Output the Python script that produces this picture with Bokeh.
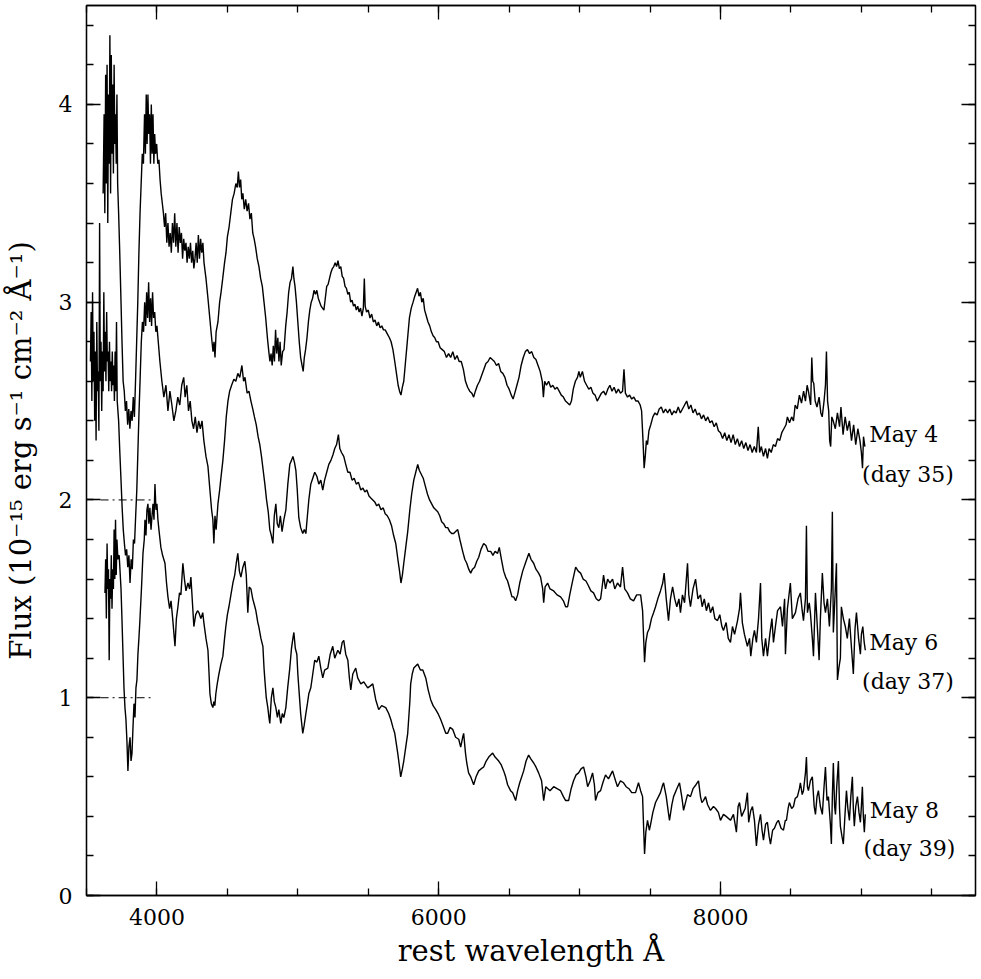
from bokeh.plotting import figure
from bokeh.models import Range1d, LinearAxis, SingleIntervalTicker
from bokeh.core.properties import value
from bokeh.embed import file_html
from bokeh.resources import INLINE

FONT = "DejaVu Serif"

# ---- data: (rest wavelength [A], flux [1e-15 erg/s/cm2/A], offset already applied) ----
may4 = [
(3618,3.55),(3625,3.95),(3630,3.45),(3636,4.15),(3641,3.60),(3646,4.20),(3651,3.40),(3656,4.05),
(3661,3.70),(3666,4.35),(3671,3.55),(3676,4.25),(3681,3.75),(3686,4.10),(3691,3.65),(3696,4.20),
(3701,3.80),(3706,3.95),(3711,3.70),(3716,4.05),(3721,3.60),(3728,3.45),(3736,3.25),(3745,3.00),
(3752,2.80),(3760,2.60),(3768,2.55),(3776,2.45),(3784,2.50),(3792,2.38),(3800,2.46),(3808,2.36),
(3816,2.45),(3824,2.40),(3832,2.52),(3840,2.42),(3848,2.60),(3856,2.80),(3864,3.00),(3872,3.25),
(3880,3.45),(3888,3.60),(3896,3.75),(3904,3.70),(3912,3.95),(3918,3.75),(3924,4.05),(3930,3.80),
(3936,4.05),(3942,3.85),(3948,3.95),(3954,3.70),(3960,4.00),(3966,3.75),(3972,3.95),(3978,3.70),
(3984,3.85),(3990,3.75),(3998,3.80),(4006,3.70),(4014,3.72),(4022,3.62),(4030,3.55),(4038,3.50),
(4046,3.45),(4054,3.38),(4062,3.45),(4070,3.30),(4078,3.40),(4086,3.28),(4094,3.35),(4102,3.25),
(4110,3.40),(4118,3.30),(4126,3.45),(4134,3.28),(4142,3.40),(4150,3.25),(4158,3.38),(4166,3.30),
(4174,3.35),(4182,3.22),(4190,3.32),(4198,3.26),(4206,3.30),(4214,3.20),(4222,3.28),(4230,3.22),
(4238,3.30),(4246,3.20),(4254,3.26),(4262,3.17),(4270,3.22),(4278,3.30),(4286,3.20),(4294,3.34),
(4302,3.22),(4310,3.32),(4318,3.25),(4326,3.30),(4334,3.20),(4348,3.12),(4362,3.02),(4375,2.92),
(4388,2.82),(4398,2.75),(4405,2.80),(4412,2.72),(4420,2.85),(4433,2.90),(4445,3.00),(4455,3.05),
(4467,3.12),(4480,3.20),(4490,3.25),(4500,3.33),(4512,3.38),(4524,3.45),(4536,3.52),(4548,3.55),
(4560,3.60),(4570,3.58),(4578,3.66),(4586,3.58),(4594,3.62),(4602,3.52),(4610,3.55),(4620,3.47),
(4630,3.52),(4640,3.46),(4650,3.50),(4660,3.42),(4670,3.45),(4680,3.35),(4690,3.32),(4700,3.28),
(4712,3.22),(4724,3.18),(4736,3.12),(4748,3.08),(4760,3.00),(4772,2.92),(4784,2.82),(4794,2.75),
(4802,2.70),(4810,2.74),(4818,2.68),(4826,2.78),(4834,2.70),(4842,2.86),(4850,2.74),(4858,2.82),
(4866,2.70),(4874,2.80),(4882,2.68),(4892,2.75),(4902,2.76),(4914,2.88),(4924,2.95),(4935,3.05),
(4945,3.10),(4955,3.12),(4965,3.18),(4972,3.12),(4980,3.08),(4990,3.00),(5000,2.90),(5010,2.80),
(5020,2.72),(5030,2.68),(5038,2.65),(5046,2.72),(5055,2.76),(5065,2.82),(5075,2.90),(5085,2.96),
(5095,3.00),(5105,3.02),(5115,3.06),(5125,3.04),(5135,3.06),(5145,3.02),(5155,3.00),(5165,2.98),
(5175,2.97),(5185,2.96),(5195,3.02),(5205,3.08),(5215,3.09),(5225,3.12),(5235,3.15),(5245,3.17),
(5255,3.18),(5265,3.20),(5275,3.18),(5285,3.21),(5295,3.17),(5305,3.18),(5315,3.13),(5325,3.12),
(5335,3.08),(5345,3.07),(5355,3.04),(5365,3.05),(5375,3.00),(5385,3.01),(5395,2.98),(5405,2.99),
(5415,2.96),(5425,2.98),(5435,2.95),(5445,2.97),(5455,2.93),(5465,2.97),(5472,3.12),(5478,2.98),
(5488,2.95),(5500,2.96),(5512,2.92),(5524,2.94),(5536,2.90),(5548,2.91),(5560,2.88),(5572,2.90),
(5584,2.87),(5596,2.88),(5608,2.86),(5620,2.86),(5635,2.84),(5650,2.82),(5662,2.80),(5675,2.76),
(5688,2.70),(5700,2.64),(5712,2.58),(5722,2.55),(5732,2.53),(5742,2.57),(5752,2.60),(5762,2.68),
(5772,2.76),(5782,2.84),(5792,2.92),(5805,2.97),(5818,3.00),(5830,3.03),(5840,3.05),(5850,3.07),
(5860,3.03),(5870,3.05),(5880,3.00),(5890,3.02),(5900,2.96),(5912,2.93),(5924,2.90),(5936,2.88),
(5948,2.85),(5960,2.83),(5972,2.82),(5984,2.80),(5996,2.80),(6010,2.77),(6025,2.76),(6040,2.75),
(6055,2.72),(6070,2.74),(6085,2.72),(6100,2.75),(6115,2.71),(6130,2.73),(6145,2.70),(6160,2.70),
(6175,2.66),(6190,2.60),(6205,2.57),(6220,2.55),(6235,2.54),(6248,2.52),(6260,2.55),(6275,2.58),
(6290,2.60),(6305,2.63),(6320,2.66),(6335,2.69),(6350,2.70),(6365,2.72),(6380,2.71),(6395,2.70),
(6410,2.68),(6425,2.69),(6440,2.65),(6455,2.64),(6470,2.62),(6485,2.58),(6500,2.56),(6515,2.53),
(6528,2.51),(6540,2.54),(6555,2.58),(6570,2.62),(6585,2.68),(6600,2.72),(6615,2.75),(6630,2.76),
(6645,2.74),(6660,2.75),(6675,2.72),(6690,2.71),(6705,2.68),(6720,2.65),(6735,2.60),(6743,2.52),
(6752,2.60),(6765,2.58),(6780,2.60),(6795,2.57),(6810,2.58),(6825,2.56),(6840,2.57),(6855,2.55),
(6870,2.53),(6885,2.52),(6900,2.50),(6915,2.49),(6930,2.48),(6942,2.50),(6955,2.56),(6970,2.60),
(6985,2.62),(6995,2.65),(7005,2.62),(7020,2.65),(7035,2.60),(7050,2.58),(7065,2.56),(7080,2.57),
(7095,2.54),(7110,2.53),(7125,2.50),(7140,2.52),(7155,2.54),(7170,2.55),(7185,2.53),(7200,2.56),
(7215,2.58),(7230,2.55),(7245,2.57),(7260,2.54),(7275,2.56),(7290,2.54),(7305,2.55),(7315,2.66),
(7325,2.54),(7340,2.52),(7355,2.53),(7370,2.51),(7385,2.52),(7400,2.50),(7415,2.50),(7430,2.48),
(7440,2.45),(7450,2.30),(7458,2.16),(7466,2.22),(7474,2.30),(7482,2.28),(7492,2.35),(7505,2.38),
(7520,2.42),(7535,2.44),(7550,2.43),(7565,2.46),(7580,2.47),(7595,2.44),(7610,2.46),(7625,2.44),
(7640,2.46),(7655,2.43),(7670,2.45),(7685,2.44),(7700,2.47),(7715,2.44),(7730,2.46),(7745,2.48),
(7760,2.50),(7775,2.46),(7790,2.48),(7805,2.44),(7820,2.46),(7835,2.43),(7850,2.44),(7865,2.41),
(7880,2.43),(7895,2.40),(7910,2.42),(7925,2.39),(7940,2.40),(7955,2.37),(7970,2.39),(7985,2.35),
(8000,2.34),(8015,2.31),(8030,2.34),(8045,2.30),(8060,2.33),(8075,2.29),(8090,2.33),(8105,2.28),
(8120,2.31),(8135,2.27),(8150,2.30),(8165,2.26),(8180,2.29),(8195,2.25),(8210,2.28),(8225,2.24),
(8240,2.27),(8255,2.24),(8268,2.37),(8278,2.24),(8290,2.27),(8305,2.22),(8320,2.26),(8333,2.21),
(8345,2.26),(8360,2.24),(8375,2.28),(8390,2.27),(8405,2.31),(8420,2.30),(8435,2.34),(8450,2.36),
(8465,2.38),(8475,2.42),(8490,2.39),(8505,2.42),(8518,2.40),(8530,2.48),(8545,2.46),(8560,2.53),
(8575,2.49),(8590,2.55),(8603,2.50),(8615,2.58),(8624,2.55),(8640,2.48),(8648,2.72),(8655,2.60),
(8662,2.59),(8672,2.50),(8685,2.47),(8700,2.52),(8712,2.44),(8722,2.42),(8735,2.50),(8745,2.58),
(8752,2.75),(8760,2.50),(8768,2.45),(8775,2.30),(8782,2.27),(8790,2.42),(8800,2.40),(8815,2.36),
(8830,2.44),(8845,2.37),(8855,2.47),(8870,2.33),(8885,2.42),(8900,2.35),(8915,2.40),(8930,2.30),
(8945,2.38),(8960,2.28),(8975,2.36),(8990,2.30),(9000,2.24),(9008,2.16),(9015,2.32),(9025,2.27),
]

may6 = [
(3528,2.70),(3533,2.95),(3538,2.50),(3543,3.05),(3548,2.60),(3553,2.85),(3558,2.40),(3563,2.75),
(3568,2.30),(3573,2.90),(3578,2.55),(3583,2.65),(3588,2.35),(3593,3.40),(3598,2.60),(3603,2.80),
(3608,2.45),(3613,2.75),(3618,2.55),(3623,3.05),(3628,2.65),(3633,2.85),(3638,2.60),(3643,2.95),
(3648,2.70),(3653,2.75),(3658,2.55),(3663,2.80),(3668,2.60),(3673,2.70),(3678,2.55),(3683,2.75),
(3688,2.58),(3693,2.68),(3698,2.50),(3703,2.75),(3708,2.55),(3713,2.90),(3718,2.50),(3728,2.40),
(3736,2.25),(3745,2.10),(3753,1.96),(3761,1.85),(3769,1.78),(3777,1.72),(3785,1.75),(3793,1.66),
(3801,1.72),(3809,1.58),(3817,1.70),(3825,1.65),(3833,1.80),(3841,1.78),(3849,1.92),(3857,2.05),
(3865,2.25),(3873,2.45),(3881,2.62),(3889,2.80),(3897,2.90),(3905,2.85),(3913,3.00),(3920,2.88),
(3927,3.05),(3934,2.92),(3941,3.10),(3948,2.90),(3955,3.02),(3962,2.88),(3969,3.05),(3976,2.92),
(3984,2.95),(3992,2.85),(4000,2.88),(4021,2.70),(4035,2.60),(4049,2.52),(4064,2.58),(4078,2.45),
(4092,2.55),(4106,2.48),(4120,2.40),(4134,2.45),(4148,2.52),(4162,2.48),(4176,2.58),(4190,2.62),
(4200,2.52),(4212,2.58),(4224,2.45),(4236,2.50),(4248,2.40),(4260,2.36),(4272,2.42),(4284,2.34),
(4296,2.40),(4308,2.36),(4320,2.40),(4333,2.30),(4348,2.22),(4362,2.17),(4376,2.05),(4388,1.95),
(4397,1.90),(4404,1.78),(4412,1.92),(4420,1.85),(4433,1.98),(4445,2.05),(4454,2.11),(4468,2.20),
(4480,2.30),(4492,2.42),(4504,2.50),(4516,2.55),(4530,2.58),(4546,2.61),(4560,2.60),(4574,2.64),
(4588,2.62),(4603,2.68),(4615,2.60),(4625,2.62),(4640,2.54),(4653,2.55),(4667,2.50),(4680,2.46),
(4692,2.42),(4705,2.38),(4718,2.32),(4730,2.28),(4742,2.22),(4754,2.15),(4766,2.08),(4778,2.00),
(4790,1.94),(4801,1.85),(4812,1.82),(4823,1.78),(4833,1.92),(4844,1.98),(4854,1.88),(4865,1.86),
(4876,1.92),(4888,1.84),(4901,1.90),(4915,1.95),(4929,2.08),(4943,2.18),(4955,2.20),(4965,2.22),
(4976,2.19),(4986,2.15),(4996,2.05),(5007,1.91),(5020,1.86),(5035,1.83),(5046,1.85),(5057,1.83),
(5068,1.92),(5078,2.00),(5092,2.08),(5106,2.11),(5120,2.14),(5135,2.12),(5149,2.08),(5163,2.10),
(5177,2.05),(5190,2.10),(5205,2.14),(5220,2.18),(5235,2.20),(5250,2.23),(5262,2.26),(5275,2.28),
(5288,2.33),(5298,2.26),(5310,2.24),(5326,2.22),(5340,2.18),(5355,2.14),(5370,2.14),(5385,2.10),
(5400,2.11),(5415,2.08),(5430,2.09),(5447,2.05),(5462,2.06),(5476,2.04),(5490,2.05),(5505,2.02),
(5518,2.01),(5532,2.00),(5546,1.99),(5560,1.97),(5574,1.98),(5590,1.95),(5606,1.96),(5620,1.93),
(5635,1.92),(5650,1.90),(5665,1.87),(5680,1.82),(5695,1.78),(5710,1.70),(5722,1.64),(5732,1.58),
(5742,1.62),(5752,1.68),(5766,1.76),(5780,1.84),(5795,1.95),(5808,2.03),(5823,2.10),(5837,2.14),
(5851,2.18),(5862,2.15),(5876,2.13),(5890,2.11),(5905,2.07),(5920,2.03),(5935,2.00),(5950,1.98),
(5965,1.96),(5979,1.95),(5993,1.94),(6007,1.92),(6021,1.89),(6035,1.88),(6050,1.86),(6064,1.86),
(6078,1.84),(6092,1.83),(6106,1.83),(6120,1.84),(6135,1.85),(6150,1.80),(6170,1.74),(6185,1.70),
(6199,1.68),(6213,1.65),(6227,1.63),(6240,1.65),(6255,1.66),(6270,1.69),(6284,1.71),(6300,1.75),
(6319,1.78),(6335,1.77),(6350,1.74),(6369,1.74),(6385,1.72),(6400,1.74),(6418,1.73),(6430,1.76),
(6445,1.70),(6461,1.64),(6475,1.61),(6489,1.59),(6505,1.55),(6520,1.51),(6532,1.51),(6546,1.49),
(6560,1.52),(6575,1.58),(6596,1.64),(6615,1.68),(6630,1.71),(6640,1.73),(6655,1.70),(6674,1.68),
(6690,1.65),(6709,1.63),(6723,1.61),(6738,1.55),(6745,1.48),(6755,1.56),(6773,1.58),(6790,1.55),
(6816,1.54),(6840,1.52),(6865,1.51),(6885,1.49),(6901,1.46),(6915,1.46),(6930,1.52),(6950,1.59),
(6972,1.66),(6990,1.64),(7007,1.63),(7025,1.60),(7045,1.59),(7060,1.57),(7080,1.54),(7099,1.53),
(7118,1.50),(7135,1.49),(7149,1.50),(7160,1.56),(7170,1.62),(7184,1.55),(7199,1.60),(7215,1.58),
(7234,1.60),(7250,1.55),(7269,1.58),(7290,1.56),(7305,1.66),(7320,1.55),(7340,1.53),(7360,1.50),
(7383,1.49),(7405,1.52),(7433,1.52),(7447,1.44),(7454,1.31),(7461,1.18),(7470,1.28),(7482,1.33),
(7495,1.35),(7510,1.40),(7525,1.43),(7539,1.46),(7555,1.50),(7574,1.54),(7590,1.58),(7600,1.63),
(7615,1.50),(7631,1.39),(7645,1.50),(7660,1.56),(7675,1.50),(7690,1.46),(7705,1.50),(7716,1.43),
(7730,1.52),(7745,1.48),(7766,1.68),(7775,1.52),(7787,1.46),(7805,1.55),(7823,1.60),(7840,1.50),
(7858,1.52),(7870,1.46),(7885,1.50),(7900,1.44),(7915,1.48),(7929,1.43),(7945,1.46),(7960,1.40),
(7979,1.39),(7995,1.42),(8010,1.36),(8021,1.34),(8040,1.38),(8055,1.30),(8071,1.28),(8085,1.36),
(8100,1.32),(8121,1.39),(8135,1.45),(8142,1.53),(8155,1.38),(8170,1.32),(8191,1.26),(8206,1.30),
(8215,1.21),(8230,1.30),(8241,1.34),(8255,1.28),(8270,1.40),(8284,1.58),(8293,1.30),(8305,1.21),
(8320,1.30),(8333,1.21),(8350,1.32),(8365,1.40),(8376,1.28),(8390,1.36),(8405,1.44),(8426,1.46),
(8440,1.36),(8455,1.50),(8461,1.22),(8475,1.45),(8496,1.58),(8510,1.40),(8532,1.43),(8550,1.50),
(8567,1.53),(8580,1.44),(8589,1.39),(8603,1.50),(8610,1.87),(8617,1.43),(8630,1.48),(8638,1.43),
(8652,1.30),(8660,1.21),(8674,1.53),(8688,1.35),(8700,1.19),(8709,1.40),(8723,1.63),(8735,1.48),
(8745,1.43),(8759,1.50),(8773,1.36),(8787,1.55),(8794,1.94),(8801,1.33),(8812,1.50),(8823,1.68),
(8830,1.09),(8840,1.15),(8851,1.20),(8858,1.46),(8872,1.40),(8886,1.36),(8900,1.30),(8915,1.40),
(8930,1.25),(8943,1.12),(8955,1.35),(8965,1.43),(8980,1.30),(8993,1.22),(9000,1.32),(9010,1.36),
(9020,1.28),(9028,1.24),
]

may8 = [
(3631,1.53),(3636,1.70),(3641,1.40),(3646,1.78),(3651,1.55),(3656,1.65),(3661,1.19),(3666,1.60),
(3671,1.50),(3676,1.72),(3681,1.45),(3686,1.65),(3691,1.55),(3696,1.85),(3701,1.60),(3706,1.90),
(3711,1.62),(3716,1.80),(3723,1.70),(3732,1.72),(3745,1.55),(3752,1.39),(3759,1.22),(3766,1.05),
(3773,0.95),(3780,0.89),(3787,0.78),(3794,0.63),(3801,0.75),(3809,0.80),(3816,0.68),(3823,0.72),
(3830,0.85),(3837,0.97),(3844,0.90),(3851,1.05),(3858,1.09),(3865,1.22),(3872,1.30),(3879,1.39),
(3890,1.55),(3901,1.73),(3910,1.80),(3915,1.90),(3922,1.82),(3929,1.95),(3936,1.98),(3943,1.88),
(3950,1.96),(3958,1.85),(3965,1.92),(3972,1.98),(3979,1.90),(3986,2.08),(3993,1.95),(4000,1.98),
(4007,1.90),(4014,1.85),(4028,1.76),(4040,1.72),(4057,1.68),(4068,1.58),(4078,1.51),(4090,1.45),
(4100,1.49),(4113,1.39),(4121,1.32),(4128,1.26),(4138,1.40),(4149,1.46),(4160,1.53),(4170,1.52),
(4184,1.68),(4195,1.60),(4206,1.54),(4220,1.58),(4232,1.55),(4241,1.61),(4252,1.48),(4262,1.36),
(4275,1.42),(4288,1.44),(4298,1.43),(4312,1.40),(4325,1.43),(4333,1.38),(4348,1.30),(4362,1.24),
(4370,1.12),(4376,1.02),(4386,0.97),(4397,0.95),(4404,0.98),(4411,0.96),(4418,1.02),(4428,1.07),
(4440,1.12),(4454,1.17),(4468,1.21),(4480,1.30),(4489,1.36),(4500,1.42),(4511,1.46),(4525,1.52),
(4539,1.58),(4552,1.62),(4563,1.68),(4574,1.73),(4585,1.64),(4596,1.61),(4610,1.66),(4624,1.69),
(4634,1.62),(4645,1.43),(4655,1.56),(4667,1.55),(4680,1.50),(4695,1.46),(4702,1.44),(4716,1.38),
(4723,1.36),(4738,1.30),(4752,1.26),(4760,1.15),(4766,1.09),(4776,1.00),(4787,0.95),(4795,0.90),
(4801,0.87),(4812,1.00),(4823,1.05),(4833,0.98),(4844,0.95),(4855,0.90),(4865,0.94),(4879,0.87),
(4890,0.92),(4901,0.90),(4915,0.95),(4928,1.05),(4943,1.15),(4955,1.25),(4965,1.30),(4972,1.33),
(4982,1.25),(4993,1.22),(5000,1.12),(5007,1.05),(5020,0.92),(5035,0.82),(5045,0.86),(5057,0.92),
(5068,0.97),(5078,1.02),(5092,1.05),(5106,1.12),(5120,1.19),(5135,1.18),(5149,1.21),(5163,1.15),
(5177,1.10),(5190,1.14),(5213,1.15),(5230,1.22),(5248,1.26),(5262,1.20),(5284,1.24),(5300,1.22),
(5315,1.28),(5326,1.29),(5340,1.22),(5355,1.19),(5366,1.10),(5376,1.04),(5390,1.12),(5411,1.15),
(5425,1.10),(5447,1.07),(5468,1.08),(5496,1.05),(5515,1.06),(5532,1.07),(5553,0.99),(5574,0.94),
(5595,0.96),(5624,0.95),(5645,0.92),(5660,0.89),(5675,0.85),(5688,0.82),(5709,0.72),(5720,0.66),
(5730,0.60),(5742,0.64),(5752,0.68),(5766,0.75),(5780,0.82),(5795,0.98),(5801,1.07),(5812,1.12),
(5823,1.15),(5837,1.16),(5851,1.17),(5870,1.14),(5887,1.14),(5908,1.10),(5925,1.04),(5943,0.99),
(5960,0.96),(5979,0.94),(5995,0.92),(6014,0.89),(6030,0.86),(6050,0.82),(6064,0.82),(6080,0.85),
(6099,0.84),(6120,0.80),(6142,0.79),(6156,0.75),(6170,0.80),(6177,0.82),(6190,0.72),(6199,0.67),
(6212,0.62),(6227,0.60),(6248,0.56),(6265,0.60),(6284,0.63),(6300,0.64),(6319,0.65),(6337,0.68),
(6355,0.70),(6369,0.71),(6383,0.72),(6400,0.70),(6426,0.68),(6444,0.66),(6461,0.63),(6475,0.60),
(6489,0.56),(6510,0.53),(6525,0.52),(6546,0.48),(6560,0.53),(6575,0.57),(6603,0.63),(6620,0.68),
(6638,0.71),(6655,0.69),(6674,0.67),(6690,0.65),(6709,0.62),(6730,0.58),(6745,0.48),(6760,0.55),
(6790,0.53),(6816,0.55),(6840,0.54),(6865,0.53),(6885,0.50),(6901,0.48),(6922,0.48),(6940,0.54),
(6957,0.58),(6975,0.61),(6993,0.62),(7010,0.64),(7028,0.65),(7045,0.60),(7057,0.55),(7075,0.58),
(7092,0.62),(7105,0.56),(7113,0.48),(7130,0.52),(7149,0.53),(7165,0.57),(7184,0.61),(7205,0.59),
(7234,0.63),(7255,0.58),(7269,0.55),(7290,0.58),(7312,0.57),(7330,0.55),(7350,0.54),(7370,0.52),
(7397,0.52),(7418,0.57),(7433,0.53),(7447,0.50),(7454,0.35),(7461,0.21),(7470,0.32),(7482,0.38),
(7495,0.33),(7504,0.36),(7520,0.42),(7539,0.47),(7560,0.50),(7574,0.52),(7590,0.56),(7596,0.57),
(7615,0.50),(7630,0.42),(7638,0.38),(7655,0.46),(7667,0.50),(7690,0.54),(7709,0.57),(7725,0.50),
(7738,0.43),(7755,0.48),(7766,0.51),(7787,0.50),(7805,0.54),(7826,0.56),(7844,0.58),(7858,0.50),
(7868,0.47),(7879,0.48),(7894,0.50),(7908,0.46),(7929,0.43),(7950,0.45),(7965,0.44),(7985,0.42),
(8000,0.38),(8021,0.41),(8040,0.40),(8071,0.38),(8092,0.41),(8113,0.32),(8125,0.45),(8135,0.47),
(8150,0.40),(8175,0.44),(8191,0.52),(8200,0.37),(8215,0.43),(8227,0.45),(8241,0.38),(8255,0.25),
(8270,0.36),(8284,0.41),(8295,0.33),(8305,0.28),(8320,0.36),(8333,0.37),(8345,0.30),(8355,0.26),
(8370,0.33),(8383,0.34),(8400,0.37),(8411,0.38),(8430,0.34),(8447,0.33),(8460,0.38),(8468,0.38),
(8480,0.44),(8489,0.47),(8505,0.44),(8518,0.45),(8530,0.49),(8546,0.50),(8560,0.54),(8567,0.57),
(8580,0.51),(8589,0.53),(8603,0.62),(8610,0.70),(8617,0.55),(8624,0.53),(8638,0.58),(8652,0.60),
(8665,0.45),(8674,0.41),(8685,0.50),(8695,0.53),(8709,0.45),(8723,0.41),(8735,0.55),(8745,0.65),
(8756,0.48),(8766,0.50),(8780,0.36),(8787,0.26),(8794,0.50),(8801,0.67),(8810,0.45),(8816,0.41),
(8825,0.55),(8837,0.68),(8845,0.44),(8851,0.35),(8862,0.30),(8872,0.26),(8883,0.40),(8894,0.53),
(8904,0.44),(8915,0.38),(8925,0.50),(8936,0.60),(8943,0.44),(8950,0.35),(8960,0.45),(8972,0.50),
(8983,0.42),(8993,0.37),(9000,0.45),(9007,0.55),(9014,0.40),(9021,0.32),(9028,0.41),
]

# zero levels of the offset spectra (May 4 shifted by +2, May 6 by +1)
zero_levels = [2, 1]
zero_marker_wl = [3600, 3980]

label_text = ["May 4", "(day 35)", "May 6", "(day 37)", "May 8", "(day 39)"]
label_wl = [9055, 9005, 9055, 9005, 9060, 9015]
label_flux = [2.33, 2.13, 1.28, 1.08, 0.43, 0.24]

x_ticks_major = 2000
x_ticks_minor = 4
y_ticks_major = 1
y_ticks_minor = 5

W, H = 979, 977
p = figure(width=W, height=H, output_backend="svg", toolbar_location=None,
           x_range=Range1d(3500, 9810), y_range=Range1d(0, 4.5),
           min_border_left=86, min_border_right=4, min_border_top=5, min_border_bottom=82)
p.background_fill_color = "white"
p.border_fill_color = "white"
p.outline_line_color = "black"
p.outline_line_width = 1.3
p.xgrid.visible = False
p.ygrid.visible = False

def style(ax, labels=True):
    ax.axis_line_color = "black"
    ax.axis_line_width = 1.3
    ax.major_tick_line_color = "black"
    ax.minor_tick_line_color = "black"
    ax.major_tick_line_width = 1.3
    ax.minor_tick_line_width = 1.3
    ax.major_tick_in = 14
    ax.major_tick_out = 0
    ax.minor_tick_in = 7
    ax.minor_tick_out = 0
    if labels:
        ax.major_label_text_font = FONT
        ax.major_label_text_font_size = "22px"
        ax.major_label_text_color = "black"
        ax.axis_label_text_font = FONT
        ax.axis_label_text_font_size = "29px"
        ax.axis_label_text_font_style = "normal"
        ax.axis_label_text_color = "black"
    else:
        ax.major_label_text_color = None
        ax.major_label_text_alpha = 0
        ax.major_label_text_font_size = "1px"
        ax.major_label_standoff = 0

xa = p.xaxis[0]
xa.ticker = SingleIntervalTicker(interval=x_ticks_major, num_minor_ticks=x_ticks_minor)
style(xa)
xa.major_label_standoff = 13
xa.axis_label = "rest wavelength Å"
xa.axis_label_standoff = 6

ya = p.yaxis[0]
ya.ticker = SingleIntervalTicker(interval=y_ticks_major, num_minor_ticks=y_ticks_minor)
style(ya)
ya.major_label_standoff = 14
ya.axis_label = "Flux (10⁻¹⁵ erg s⁻¹ cm⁻² Å⁻¹)"
ya.axis_label_standoff = 18
ya.major_label_orientation = "horizontal"

top = LinearAxis(ticker=SingleIntervalTicker(interval=x_ticks_major, num_minor_ticks=x_ticks_minor))
style(top, labels=False)
p.add_layout(top, "above")
right = LinearAxis(ticker=SingleIntervalTicker(interval=y_ticks_major, num_minor_ticks=y_ticks_minor))
style(right, labels=False)
p.add_layout(right, "right")

for spec in (may4, may6, may8):
    spec = sorted(spec)
    p.line([s[0] for s in spec], [s[1] for s in spec], line_color="black", line_width=1.4)

for z in zero_levels:
    p.line(zero_marker_wl, [z, z], line_color="black", line_width=1.0, line_dash="8 4 2 4")

p.text(x=label_wl, y=label_flux, text=label_text, text_font=value(FONT),
       text_font_size="22px", text_baseline="middle", text_align="left", text_color="black")

open("out.html", "w").write(file_html(p, INLINE))
